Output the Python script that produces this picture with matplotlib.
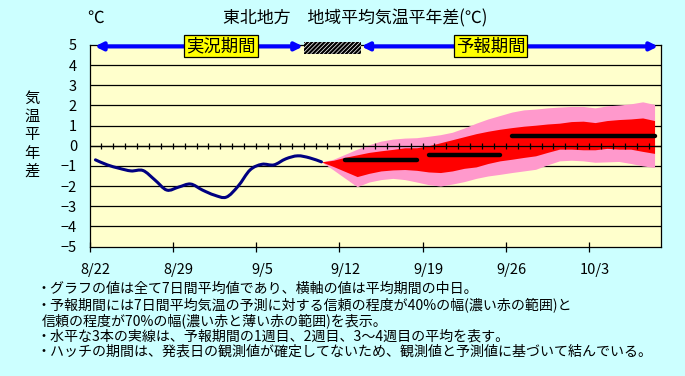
import matplotlib
matplotlib.use("Agg")
import matplotlib.pyplot as plt
from matplotlib.path import Path
from matplotlib.patches import PathPatch, Rectangle

plt.rcParams["font.family"] = ["Noto Sans CJK JP", "DejaVu Sans"]
plt.rcParams["hatch.linewidth"] = 1.6

# --- data (one category per day, starting 8/22) ---
date_labels = ["8/22", "8/29", "9/5", "9/12", "9/19", "9/26", "10/3"]
label_days = [0, 7, 14, 21, 28, 35, 42]
n_days = 48

# observed 7-day mean anomaly, days 0..19
observed = [-0.7, -0.95, -1.12, -1.25, -1.23, -1.7, -2.2, -2.05, -1.9, -2.2,
            -2.45, -2.55, -2.0, -1.2, -0.92, -0.95, -0.65, -0.5, -0.6, -0.8]

# forecast ranges, days 19..47
fc_start = 19
pink_upper = [-0.8, -0.67, -0.42, -0.17, 0.05, 0.23, 0.33, 0.38, 0.4, 0.47,
              0.55, 0.67, 0.88, 1.12, 1.33, 1.5, 1.67, 1.78, 1.82, 1.88,
              1.92, 1.95, 1.95, 1.88, 1.98, 2.02, 2.08, 2.18, 2.05]
red_upper = [-0.8, -0.72, -0.57, -0.45, -0.33, -0.25, -0.18, -0.1, -0.1, 0.0,
             0.15, 0.3, 0.45, 0.6, 0.72, 0.82, 0.9, 0.97, 1.02, 1.08,
             1.12, 1.2, 1.22, 1.15, 1.25, 1.3, 1.33, 1.38, 1.25]
red_lower = [-0.8, -1.03, -1.28, -1.53, -1.37, -1.25, -1.2, -1.18, -1.22, -1.3,
             -1.33, -1.25, -1.12, -1.05, -0.88, -0.75, -0.67, -0.58, -0.5, -0.33,
             -0.17, -0.17, -0.2, -0.2, -0.13, -0.17, -0.17, -0.28, -0.38]
pink_lower = [-0.8, -1.2, -1.62, -2.03, -1.8, -1.68, -1.62, -1.68, -1.8, -1.93,
              -2.0, -1.9, -1.78, -1.62, -1.5, -1.42, -1.33, -1.25, -1.17, -0.95,
              -0.75, -0.72, -0.75, -0.82, -0.8, -0.78, -0.88, -1.0, -1.08]

# weekly means: week 1, week 2, weeks 3-4
week_first = [21, 28, 35]
week_last = [27, 34, 47]
week_mean = [-0.7, -0.48, 0.48]

notes = [
    "・グラフの値は全て7日間平均値であり、横軸の値は平均期間の中日。",
    "・予報期間には7日間平均気温の予測に対する信頼の程度が40%の幅(濃い赤の範囲)と",
    "信頼の程度が70%の幅(濃い赤と薄い赤の範囲)を表示。",
    "・水平な3本の実線は、予報期間の1週目、2週目、3～4週目の平均を表す。",
    "・ハッチの期間は、発表日の観測値が確定してないため、観測値と予測値に基づいて結んでいる。",
]


def smooth_path(xs, ys):
    # Catmull-Rom style bezier, like a spreadsheet "smoothed line"
    pts = list(zip(xs, ys))
    verts = [pts[0]]
    codes = [Path.MOVETO]
    for i in range(len(pts) - 1):
        p0 = pts[i - 1] if i > 0 else pts[i]
        p1, p2 = pts[i], pts[i + 1]
        p3 = pts[i + 2] if i + 2 < len(pts) else pts[i + 1]
        c1 = (p1[0] + (p2[0] - p0[0]) / 6, p1[1] + (p2[1] - p0[1]) / 6)
        c2 = (p2[0] - (p3[0] - p1[0]) / 6, p2[1] - (p3[1] - p1[1]) / 6)
        verts += [c1, c2, p2]
        codes += [Path.CURVE4] * 3
    return Path(verts, codes)


fig = plt.figure(figsize=(6.85, 3.76), dpi=100, facecolor="#CCFFFF")
ax = fig.add_axes([89.5 / 685, 1 - 246.5 / 376, 571 / 685, 201.5 / 376])
ax.set_facecolor("#FFFFCC")
ax.set_xlim(0, n_days)
ax.set_ylim(-5, 5)

for v in range(-4, 5):
    ax.axhline(v, color="black", lw=0.9, zorder=1)

fx = [d + 0.5 for d in range(fc_start, fc_start + len(pink_upper))]
ax.fill_between(fx, pink_lower, pink_upper, color="#FF99CC", lw=0, zorder=2)
ax.fill_between(fx, red_lower, red_upper, color="#FF0000", lw=0, zorder=3)

# zero line with a small crossing tick for every day
ax.axhline(0, color="black", lw=0.9, zorder=4)
ax.plot(range(1, n_days), [0] * (n_days - 1), ls="none", marker="|",
        ms=5, mew=0.9, color="black", zorder=4)

ox = [d + 0.5 for d in range(len(observed))]
ax.add_patch(PathPatch(smooth_path(ox, observed), fc="none", ec="#000080",
                       lw=2.2, zorder=5, capstyle="round"))

for a, b, m in zip(week_first, week_last, week_mean):
    ax.plot([a + 0.5, b + 0.5], [m, m], color="black", lw=3.2,
            solid_capstyle="round", zorder=6)

# axes / ticks
for s in ax.spines.values():
    s.set_color("black")
    s.set_linewidth(0.9)
ax.set_yticks(range(-5, 6))
ax.tick_params(axis="y", length=0, pad=9, labelsize=10.5)
ax.set_xticks([d + 0.5 for d in label_days])
ax.set_xticklabels(date_labels)
ax.tick_params(axis="x", which="major", length=0, pad=12, labelsize=10.5)
ax.set_xticks(label_days, minor=True)
ax.tick_params(axis="x", which="minor", direction="inout", length=7, width=0.9)

# period arrows at the top
y_arr = 4.93
ax.annotate("", xy=(17.95, y_arr), xytext=(0.45, y_arr), annotation_clip=False,
            arrowprops=dict(arrowstyle="<|-|>", color="#0000FF", lw=3,
                            mutation_scale=11, shrinkA=0, shrinkB=0), zorder=7)
ax.annotate("", xy=(47.8, y_arr), xytext=(22.85, y_arr), annotation_clip=False,
            arrowprops=dict(arrowstyle="<|-|>", color="#0000FF", lw=3,
                            mutation_scale=11, shrinkA=0, shrinkB=0), zorder=7)
ax.add_patch(Rectangle((18.0, 4.55), 4.8, 0.58, fc="white", ec="black",
                       hatch="////////", lw=0, clip_on=False, zorder=7))
box = dict(boxstyle="square,pad=0.12", fc="#FFFF00", ec="black", lw=0.9)
ax.text(11.05, y_arr, "実況期間", ha="center", va="center", fontsize=12.5,
        bbox=box, zorder=8)
ax.text(33.7, y_arr, "予報期間", ha="center", va="center", fontsize=12.5,
        bbox=box, zorder=8)

# titles and labels
fig.text(355 / 685, 1 - 18 / 376, "東北地方　地域平均気温平年差(℃)",
         ha="center", va="center", fontsize=12.2)
fig.text(96 / 685, 1 - 18 / 376, "℃", ha="center", va="center", fontsize=12)
fig.text(32 / 685, 1 - 135 / 376, "\n".join("気温平年差"), ha="center",
         va="center", fontsize=11, linespacing=1.1)

for k, line in enumerate(notes):
    x0 = 42 if not line.startswith("・") else 37
    fig.text(x0 / 685, 1 - (289 + 15.7 * k) / 376, line, ha="left",
             va="center", fontsize=10.1)

fig.savefig("out.png", dpi=100, facecolor=fig.get_facecolor())
